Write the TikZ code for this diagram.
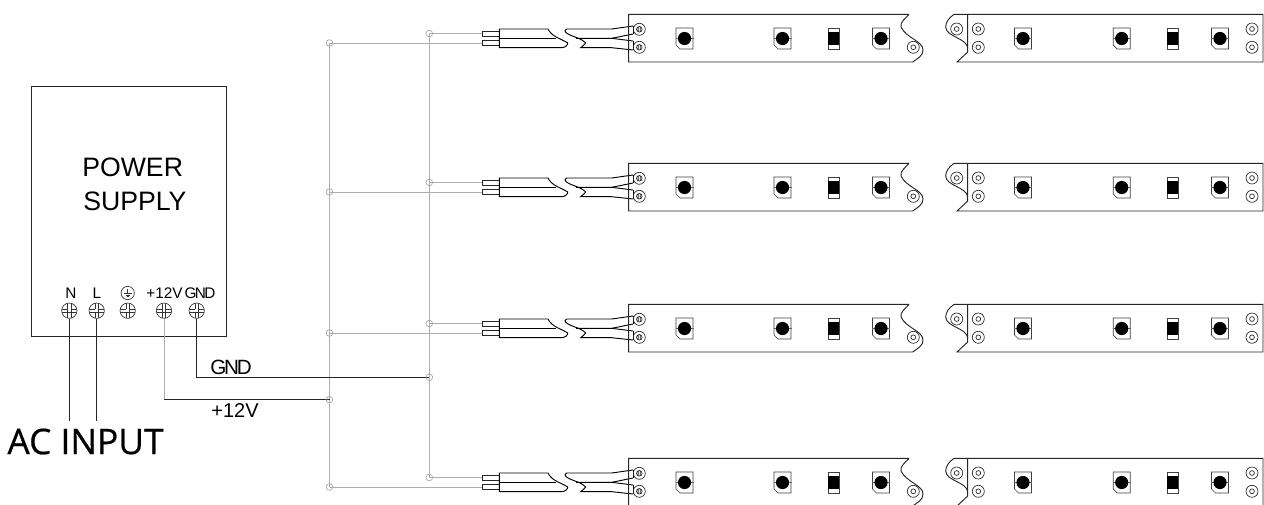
\documentclass[tikz,border=0pt]{standalone}
\usepackage{fontspec}
\setmainfont{Liberation Sans}
\newfontfamily\tightfont[LetterSpace=-11]{Liberation Sans}
\newfontfamily\acfont[FakeBold=0.5]{Open Sans}
\tikzset{
 lbl/.style={inner sep=0pt,font=\fontsize{11.5}{13}\selectfont},
 big/.style={inner sep=0pt,font=\fontsize{20}{24}\selectfont,anchor=west},
 greyw/.style={draw=black!32,line width=0.6pt},
 blk/.style={draw=black!85,line width=0.6pt},
 jn/.style={circle,draw=black!35,line width=0.5pt,minimum size=5pt,inner sep=0pt},
 term/.style={circle,draw=black!80,line width=0.5pt,minimum size=11.5pt,inner sep=0pt,path picture={
   \draw[black!80,line width=0.5pt] ([xshift=-1.3pt]path picture bounding box.north) -- ([xshift=-1.3pt]path picture bounding box.south)
   ([xshift=1.3pt]path picture bounding box.north) -- ([xshift=1.3pt]path picture bounding box.south)
   ([yshift=1.3pt]path picture bounding box.west) -- ([yshift=1.3pt]path picture bounding box.east)
   ([yshift=-1.3pt]path picture bounding box.west) -- ([yshift=-1.3pt]path picture bounding box.east);
   \fill[white] ([xshift=-1.05pt,yshift=-1.05pt]path picture bounding box.center) rectangle ([xshift=1.05pt,yshift=1.05pt]path picture bounding box.center);}},
 hole/.style={circle,draw=black!85,line width=0.5pt,minimum size=9pt,inner sep=0pt},
 holei/.style={circle,draw=black!85,line width=0.5pt,minimum size=3.6pt,inner sep=0pt},
}
\newcommand{\holeat}[2]{\node[hole] at (#1,#2) {}; \node[holei] at (#1,#2) {};}
\newcommand{\ledat}[2]{%
 \draw[black!75,line width=0.5pt] (#1-8.5,#2-10.5) -- (#1+8.5,#2-10.5) -- (#1+8.5,#2+10.5) -- (#1-4.5,#2+10.5) -- (#1-8.5,#2+6.5) -- cycle;
 \draw[black!60,line width=0.3pt] (#1-9,#2) -- (#1+9,#2);
 \fill[black] (#1,#2) circle[radius=6.6];}
\newcommand{\resat}[2]{%
 \draw[black!75,line width=0.5pt] (#1-5.5,#2-10.5) rectangle (#1+5.5,#2+10.5);
 \fill[black] (#1-5.5,#2-6.5) rectangle (#1+5.5,#2+6.5);}
\newcommand{\striprow}[2]{% #1 = row name, #2 = y offset
\begin{scope}[yshift=#2*-0.75pt]
 \coordinate (#1a) at (429.3,33.5);
 \coordinate (#1b) at (329.5,43);
 \coordinate (#1p) at (482,33.5);
 \coordinate (#1q) at (482,43);
 \draw[greyw] (#1a) -- (#1p);
 \draw[greyw] (#1b) -- (#1q);
 \node[jn] at (#1a) {};
 \node[jn] at (#1b) {};
 % plugs
 \draw[black!85,line width=0.6pt] (482,31) rectangle (499.3,36.3) (482,40.5) rectangle (499.3,45.8);
 % cable left
 \draw[black,line width=0.7pt] (548,29) -- (499.3,29) -- (499.3,47.7) -- (561.7,47.7) .. controls (565,47.7) and (568,45) .. (567.7,43) .. controls (560,38) and (552,37) .. (548,29);
 \draw[black,line width=0.7pt] (499.3,38.3) -- (556,38.3);
 % cable right
 \draw[black,line width=0.7pt] (633,26) -- (611.7,29) -- (566.7,29) .. controls (563,31) and (566,33) .. (570,35) .. controls (577,38) and (582,39) .. (585.7,43) .. controls (585,45) and (582,46) .. (580.7,47.7) -- (611.7,47.7) -- (633,50);
 \draw[black,line width=0.7pt] (576,38.3) -- (611.7,38.3) -- (633,34);
 \draw[black,line width=0.7pt] (611.7,38.3) -- (633,41);
 \draw[black,line width=0.7pt] (633,26) -- (633,34) (633,41) -- (633,50);
 % strip left
 \draw[black!85,line width=0.7pt] (909,14.3) -- (628.7,14.3) -- (628.7,62) -- (912.7,62) .. controls (918,58) and (923,56) .. (923,50) .. controls (923,41) and (906,38) .. (901,27) .. controls (900,22) and (905,19) .. (909,14.3);
 % terminals of left strip
 \foreach \yy in {29.3,47.3}{\node[hole] at (639.3,\yy) {};
   \draw[black!85,line width=0.5pt] (639.3,\yy) circle[radius=2.8] (638.3,\yy-2.6) -- (638.3,\yy+2.6) (640.3,\yy-2.6) -- (640.3,\yy+2.6);}
 \ledat{684.5}{38.5}
 \ledat{782.5}{38.5}
 \resat{833.5}{38.5}
 \ledat{881}{38.5}
 \holeat{913.3}{47.3}
 % strip right
 \draw[black!85,line width=0.7pt] (954,14.3) -- (1263,14.3) -- (1263,62) -- (957,62) -- (967.7,52) -- (967.7,14.3);
 \draw[black!85,line width=0.7pt] (954,14.3) .. controls (949,18) and (945.7,22) .. (945.7,27) .. controls (946,37) and (967,38) .. (967.7,48);
 \holeat{956.7}{29}
 \holeat{978.3}{29}
 \holeat{978.3}{47.3}
 \ledat{1023}{38.5}
 \ledat{1121.7}{38.5}
 \resat{1172.5}{38.5}
 \ledat{1220}{38.5}
 \holeat{1252}{29}
 \holeat{1252}{47.3}
\end{scope}}
\begin{document}
\begin{tikzpicture}[x=0.75pt,y=-0.75pt]
\useasboundingbox (0,0) rectangle (1264,504);
\fill[white] (0,0) rectangle (1264,504);
% grey buses
\coordinate (b1t) at (329.5,43);
\coordinate (b1b) at (329.5,487);
\coordinate (b2t) at (429.3,33.5);
\coordinate (b2b) at (429.3,477.5);
\draw[greyw] (b1t) -- (b1b);
\draw[greyw] (b2t) -- (b2b);
\striprow{ra}{0}
\striprow{rb}{149}
\striprow{rc}{290}
\striprow{rd}{444}
% power supply
\node[draw=black!85,line width=0.6pt,minimum width=146.25pt,minimum height=187.5pt,inner sep=0pt,anchor=north west] (psu) at (31,86) {};
\node[big] (t1) at (82,167.5) {POWER};
\node[big] (t2) at (83,201.5) {SUPPLY};
\node[term] (tn) at (69.3,310.7) {};
\node[term] (tl) at (96.7,310.7) {};
\node[term] (te) at (127.7,310.7) {};
\node[term] (tv) at (164,310.7) {};
\node[term] (tg) at (196.7,310.7) {};
\node[lbl] at (71,293) {N};
\node[lbl] at (97,293) {L};
\node[circle,draw=black!80,line width=0.5pt,minimum size=10pt,inner sep=0pt] (gs) at (127.7,293) {};
\draw[black!80,line width=0.5pt] (127.7,288.5) -- (127.7,293.5) (124,293.5) -- (131.5,293.5) (125.5,295) -- (130,295) (126.8,296.5) -- (128.7,296.5);
\node[lbl] at (164.5,293) {+12V};
\node[lbl,font=\tightfont\fontsize{11.5}{13}\selectfont] at (200,293) {GND};
% output wires
\coordinate (jg) at (429.3,377.3);
\coordinate (jv) at (329.5,399.7);
\coordinate (cv) at (164,399.7);
\draw[greyw] (tv) -- (cv);
\draw[blk] (cv) -- (jv);
\draw[blk] (tg) |- (jg);
\node[jn] at (jg) {};
\node[jn] at (jv) {};
\coordinate (an) at (69.3,420.7);
\coordinate (al) at (96.7,420.7);
\draw[blk] (tn) -- (an);
\draw[blk] (tl) -- (al);
\node[inner sep=0pt,anchor=center] at (231,367) {\tightfont\fontsize{15.5}{17}\selectfont GND};
\node[inner sep=0pt,anchor=center] at (235,411) {\fontsize{15}{17}\selectfont +12V};
\node[inner sep=0pt,anchor=center] at (85.5,441.5) {\acfont\fontsize{26.5}{30}\selectfont AC INPUT};
\end{tikzpicture}
\end{document}
